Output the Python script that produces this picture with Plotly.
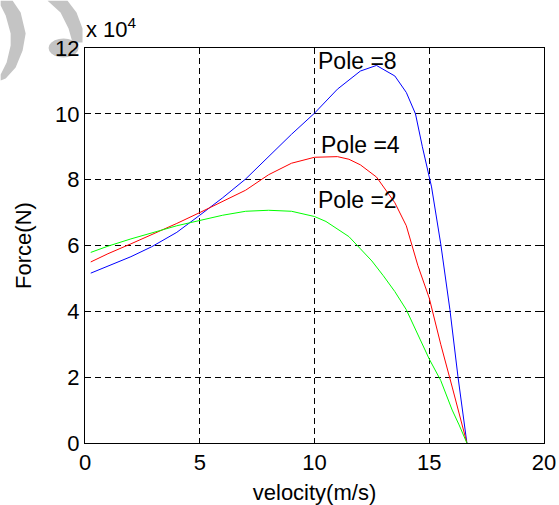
import math
import plotly.graph_objects as go

# Data (force in units of 1e4 N)
v_pole8 = [0.25, 1.0, 2.0, 2.9, 4.0, 5.0, 6.0, 7.0, 8.0, 9.0, 10.0, 11.0, 12.0, 12.7,
           13.5, 14.0, 14.4, 14.7, 15.1, 15.5, 15.9, 16.25, 16.64]
f_pole8 = [5.16, 5.38, 5.66, 5.96, 6.40, 6.92, 7.45, 8.02, 8.70, 9.38, 10.02, 10.75,
           11.30, 11.47, 11.15, 10.65, 10.00, 9.00, 7.78, 6.05, 4.05, 2.02, 0.0]

v_pole4 = [0.25, 1.0, 2.0, 3.0, 4.0, 5.0, 6.0, 7.0, 8.0, 9.0, 10.0, 11.0, 11.5, 12.0,
           12.7, 13.5, 14.0, 14.5, 15.0, 15.5, 16.0, 16.3, 16.64]
f_pole4 = [5.50, 5.75, 6.05, 6.35, 6.67, 7.00, 7.35, 7.68, 8.15, 8.50, 8.68, 8.70, 8.62,
           8.45, 8.08, 7.30, 6.60, 5.40, 4.40, 3.00, 1.70, 0.90, 0.0]

v_pole2 = [0.25, 1.0, 2.0, 3.0, 4.0, 5.0, 6.0, 7.0, 8.0, 9.0, 10.0, 10.5, 11.0, 11.5,
           12.0, 12.5, 13.0, 13.5, 14.0, 14.5, 15.0, 15.5, 16.0, 16.3, 16.64]
f_pole2 = [5.79, 5.98, 6.20, 6.40, 6.60, 6.76, 6.92, 7.04, 7.07, 7.04, 6.88, 6.73, 6.50,
           6.27, 5.90, 5.53, 5.08, 4.60, 4.05, 3.30, 2.55, 1.90, 1.00, 0.55, 0.0]

labels = ["Pole =8", "Pole =4", "Pole =2"]
label_x = [10.05, 10.2, 10.05]
label_y = [11.62, 9.05, 7.38]

x_ticks = [0, 5, 10, 15, 20]
y_ticks = [0, 2, 4, 6, 8, 10, 12]

FONT = "Liberation Sans, Arial, sans-serif"
W, H = 559, 505
ML, MR, MT, MB = 84.5, 14.5, 47.5, 61.5

fig = go.Figure()
for vv, ff, col in [(v_pole8, f_pole8, "#0000FF"),
                    (v_pole4, f_pole4, "#FF0000"),
                    (v_pole2, f_pole2, "#00FF00")]:
    fig.add_trace(go.Scatter(x=vv, y=ff, mode="lines",
                             line=dict(color=col, width=1), showlegend=False))

for t, lx, ly in zip(labels, label_x, label_y):
    fig.add_annotation(x=lx, y=ly, xref="x", yref="y", text=t, showarrow=False,
                       xanchor="left", yanchor="middle",
                       font=dict(family=FONT, size=23, color="black"))

# pixel -> paper helpers
pw = W - ML - MR
ph = H - MT - MB
def px(xp):
    return (xp - ML) / pw
def py(yp):
    return (H - MB - yp) / ph

# exponent label
fig.add_annotation(x=px(83), y=py(27), xref="paper", yref="paper",
                   text="x 10<sup>4</sup>", showarrow=False,
                   xanchor="left", yanchor="middle",
                   font=dict(family=FONT, size=22, color="black"))

# watermark decoration
def path(pts):
    return "M " + " L ".join(f"{px(a):.4f},{py(b):.4f}" for a, b in pts) + " Z"

gray = "#C4C4C4"
fig.add_shape(type="path", xref="paper", yref="paper", layer="below",
              path=path([(12, 0), (20, 12), (25, 33), (22, 50), (15, 67), (5, 78), (0, 80),
                         (0, 74), (6, 62), (10, 45), (10, 33), (5, 15), (0, 5), (0, 0)]),
              fillcolor=gray, line=dict(width=0))
fig.add_shape(type="path", xref="paper", yref="paper", layer="below",
              path=path([(47, 0), (60, 12), (68, 28), (72, 42), (82, 42), (82, 28),
                         (76, 12), (67, 0)]),
              fillcolor=gray, line=dict(width=0))
ell = [(63 + 15 * math.cos(a / 20 * 2 * math.pi), 47.5 + 9.5 * math.sin(a / 20 * 2 * math.pi))
       for a in range(20)]
fig.add_shape(type="path", xref="paper", yref="paper", layer="below",
              path=path(ell), fillcolor=gray, line=dict(width=0))

axis_common = dict(showline=True, linecolor="black", linewidth=1, mirror="ticks",
                   ticks="inside", ticklen=5, tickcolor="black",
                   showgrid=True, gridcolor="black", gridwidth=1, griddash="6px,4px",
                   zeroline=False, automargin=False,
                   tickfont=dict(family=FONT, size=22, color="black"))

fig.update_xaxes(range=[0, 20], tickvals=x_ticks, ticktext=[str(t) for t in x_ticks],
                 title=dict(text="velocity(m/s)", standoff=17,
                            font=dict(family=FONT, size=22, color="black")),
                 **axis_common)
fig.update_yaxes(range=[0, 12], tickvals=y_ticks, ticktext=[str(t) for t in y_ticks],
                 title=dict(text="Force(N)", standoff=17,
                            font=dict(family=FONT, size=22, color="black")),
                 **axis_common)

fig.update_layout(width=W, height=H, autosize=False,
                  margin=dict(l=ML, r=MR, t=MT, b=MB, pad=0),
                  plot_bgcolor="white", paper_bgcolor="white",
                  font=dict(family=FONT, size=22, color="black"))

fig.write_html("out.html", config={"displayModeBar": False},
               post_script="document.body.style.margin='0';document.body.style.overflow='hidden';")
